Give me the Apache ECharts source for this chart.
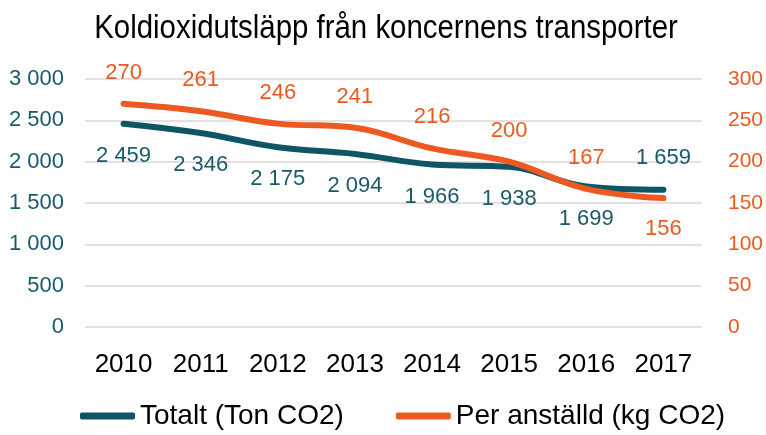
<!DOCTYPE html>
<html><head><meta charset="utf-8">
<script src="https://cdn.jsdelivr.net/npm/echarts@6/dist/echarts.min.js"></script>
<style>html,body{margin:0;padding:0;background:#fff}#c{width:766px;height:435px}</style>
</head><body><div id="c"></div>
<script>
const categories = ['2010','2011','2012','2013','2014','2015','2016','2017'];
const totalt = [2459, 2346, 2175, 2094, 1966, 1938, 1699, 1659];
const perAnstalld = [270, 261, 246, 241, 216, 200, 167, 156];
const seriesNames = ['Totalt (Ton CO2)', 'Per anställd (kg CO2)'];
const titleText = 'Koldioxidutsläpp från koncernens transporter';

const teal = '#0e5566';
const tealText = '#1a5a6a';
const orange = '#ec5a22';
const fmt = v => String(v).replace(/\B(?=(\d{3})+(?!\d))/g, ' ');
const font = '"Liberation Sans", Arial';
const last = categories.length - 1;

const chart = echarts.init(document.getElementById('c'));
chart.setOption({
  animation: false,
  graphic: [{type: 'text', x: 386, y: 12, scaleX: 0.865,
    style: {text: titleText, font: '34px "Liberation Sans", Arial', fill: '#000',
      textAlign: 'center', textVerticalAlign: 'top'}}],
  legend: {bottom: 0, left: 75, itemWidth: 55, itemHeight: 7, itemGap: 52,
    icon: 'roundRect',
    textStyle: {fontFamily: font, fontSize: 28, color: '#000'},
    data: [{name: seriesNames[0], itemStyle: {color: teal, opacity: 1}},
           {name: seriesNames[1], itemStyle: {color: orange, opacity: 1}}]},
  grid: {left: 85, right: 61, top: 79, bottom: 108},
  xAxis: {type: 'category', data: categories, boundaryGap: true,
    axisLine: {show: false}, axisTick: {show: false},
    axisLabel: {fontFamily: font, fontSize: 26, color: '#000', margin: 25, interval: 0}},
  yAxis: [
    {type: 'value', min: 0, max: 3000, interval: 500,
      axisLine: {show: false}, axisTick: {show: false},
      splitLine: {lineStyle: {color: '#d9d9d9', width: 1.5}},
      axisLabel: {fontFamily: font, fontSize: 22, color: tealText, margin: 21, formatter: fmt}},
    {type: 'value', min: 0, max: 300, interval: 50,
      axisLine: {show: false}, axisTick: {show: false}, splitLine: {show: false},
      axisLabel: {fontFamily: font, fontSize: 21, color: orange, margin: 26, align: 'left'}}
  ],
  series: [
    {name: seriesNames[0], type: 'line', yAxisIndex: 0, smooth: 0.4,
      data: totalt.map((v, i) => i === last ? {value: v, label: {position: 'top'}} : v),
      symbol: 'circle', symbolSize: 0.1, showSymbol: true,
      lineStyle: {color: teal, width: 6, cap: 'round'}, itemStyle: {color: teal},
      label: {show: true, position: 'bottom', distance: 21, fontFamily: font, fontSize: 22,
        color: tealText, formatter: p => fmt(p.value)}},
    {name: seriesNames[1], type: 'line', yAxisIndex: 1, smooth: 0.4,
      data: perAnstalld.map((v, i) => i === last ? {value: v, label: {position: 'bottom'}} : v),
      symbol: 'circle', symbolSize: 0.1, showSymbol: true,
      lineStyle: {color: orange, width: 6, cap: 'round'}, itemStyle: {color: orange},
      label: {show: true, position: 'top', distance: 20, fontFamily: font, fontSize: 22,
        color: orange}}
  ]
});
</script></body></html>
